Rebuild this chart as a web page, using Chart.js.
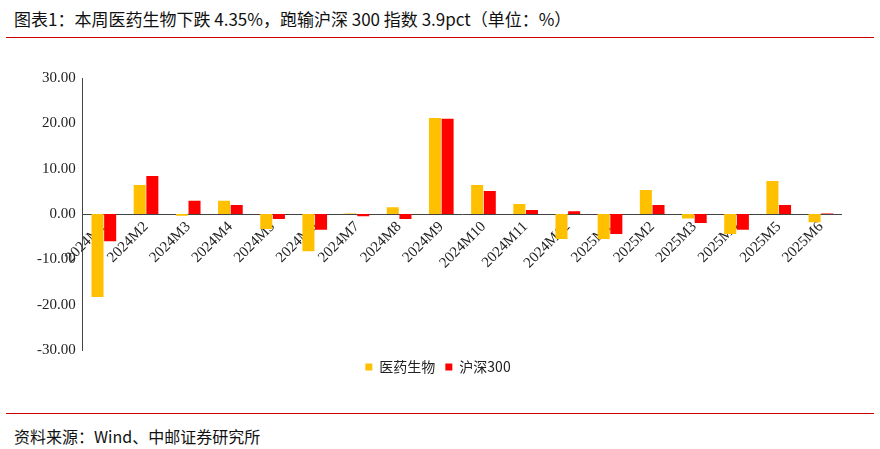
<!DOCTYPE html>
<html><head><meta charset="utf-8">
<script src="https://cdn.jsdelivr.net/npm/chart.js@4"></script>
<style>
body{margin:0;width:880px;height:449px;background:#fff;position:relative;font-family:"Noto Sans CJK SC";}
#title{position:absolute;left:14px;top:6px;font-size:17px;color:#111;}
#l1{position:absolute;left:6px;right:6px;top:37px;border-top:1px solid #d00000;}
#l2{position:absolute;left:6px;right:6px;top:413px;border-top:1px solid #d00000;}
#src{position:absolute;left:14px;top:424px;font-size:16px;color:#111;}
#wrap{position:absolute;left:34px;top:66px;width:808px;height:318px;}
</style></head><body>
<div id="title">图表1：本周医药生物下跌 4.35%，跑输沪深 300 指数 3.9pct（单位：%）</div>
<div id="l1"></div>
<div id="wrap"><canvas id="c"></canvas></div>
<div id="l2"></div>
<div id="src">资料来源：Wind、中邮证券研究所</div>
<script>
const labels = ['2024M1','2024M2','2024M3','2024M4','2024M5','2024M6','2024M7','2024M8','2024M9','2024M10','2024M11','2024M12','2025M1','2025M2','2025M3','2025M4','2025M5','2025M6'];
const pharma = [-18.3,6.4,-0.4,2.9,-3.3,-8.2,0.1,1.5,21.2,6.4,2.2,-5.5,-5.5,5.3,-1.0,-4.4,7.3,-1.8];
const csi300 = [-6.0,8.4,2.9,2.0,-1.1,-3.5,-0.5,-1.1,21.0,5.1,0.9,0.6,-4.4,2.0,-2.0,-3.5,2.0,0.1];
const tickFont = {family:'"Liberation Serif"', size:15};
new Chart(document.getElementById('c'), {
  type:'bar',
  data:{labels, datasets:[
    {label:'医药生物', data:pharma, backgroundColor:'#ffc000', categoryPercentage:0.6, barPercentage:0.95},
    {label:'沪深300', data:csi300, backgroundColor:'#ff0000', categoryPercentage:0.6, barPercentage:0.95}
  ]},
  options:{
    responsive:true, maintainAspectRatio:false, animation:false,
    plugins:{legend:{position:'bottom', labels:{boxWidth:7, boxHeight:7, color:'#222', font:{family:'"Noto Sans CJK SC"', size:14}}}},
    scales:{
      x:{position:{y:0}, grid:{display:false, drawTicks:true, tickLength:4}, border:{color:'#444'},
         ticks:{maxRotation:45, minRotation:45, color:'#222', font:tickFont, padding:0}},
      y:{min:-30, max:30, ticks:{stepSize:10, color:'#222', font:tickFont, callback:v=>v.toFixed(2)},
         grid:{display:false, drawTicks:true, tickLength:4}, border:{color:'#444'}}
    }
  }
});
</script>
</body></html>
